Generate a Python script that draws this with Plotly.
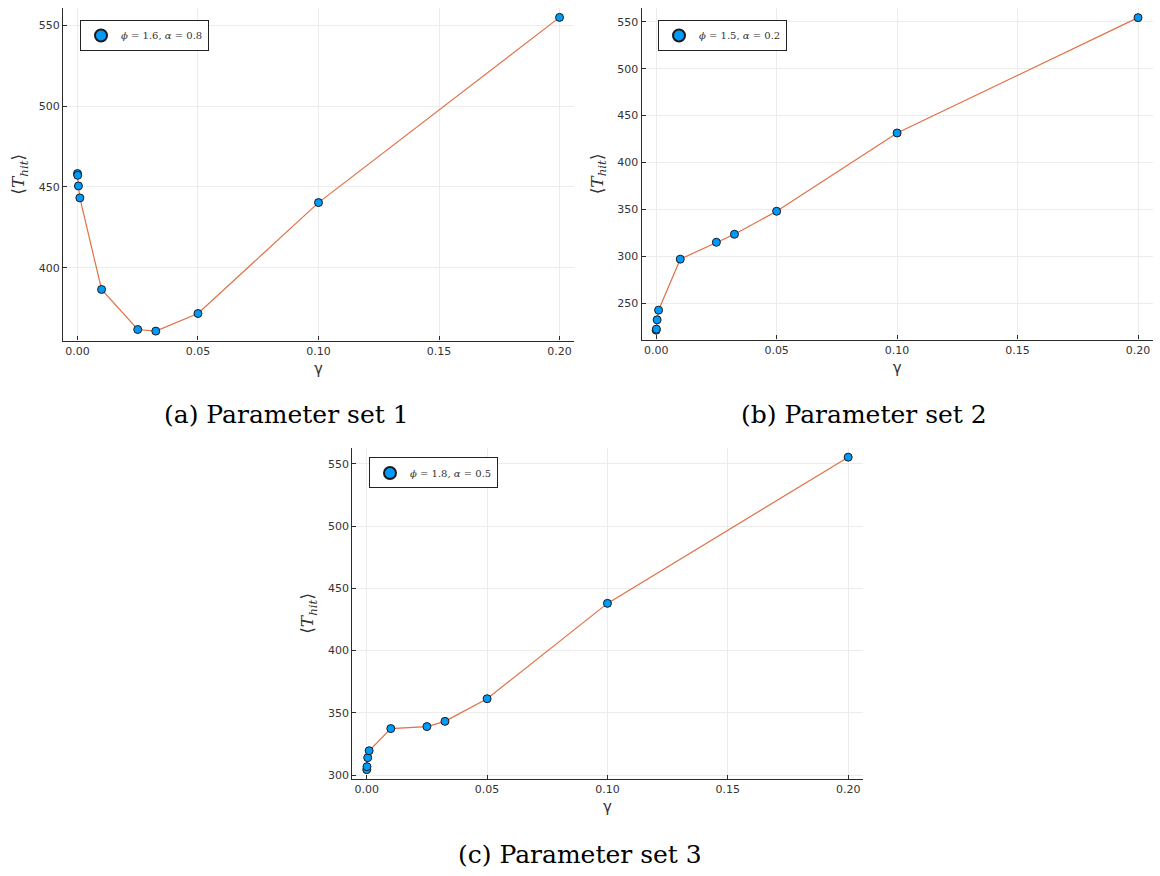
import plotly.graph_objects as go

# ---- data ----
gamma = [0.0, 0.0001, 0.0004, 0.001, 0.01, 0.025, 0.0325, 0.05, 0.1, 0.2]
t_hit_set1 = [458.3, 457.2, 450.6, 443.2, 386.5, 361.7, 360.7, 371.6, 440.3, 555.0]
t_hit_set2 = [221.6, 222.7, 232.6, 242.9, 297.2, 315.2, 323.7, 348.2, 431.5, 554.3]
t_hit_set3 = [304.3, 306.7, 313.9, 319.5, 337.3, 338.9, 343.1, 361.3, 437.9, 555.4]
labels = ["<i>ϕ</i> = 1.6, <i>α</i> = 0.8",
          "<i>ϕ</i> = 1.5, <i>α</i> = 0.2",
          "<i>ϕ</i> = 1.8, <i>α</i> = 0.5"]
captions = ["(a) Parameter set 1", "(b) Parameter set 2", "(c) Parameter set 3"]
x_ticks = [0.0, 0.05, 0.10, 0.15, 0.20]
x_ticktext = ["0.00", "0.05", "0.10", "0.15", "0.20"]
y_ticks = [250, 300, 350, 400, 450, 500, 550]

W, H = 1160, 876
MARKER = "#009AFA"
LINE = "#E36F47"
AX = "#2b2b2b"
GRID = "#ececec"

# plot-area boxes in pixels: (left, right, top, bottom)
boxes = [(63, 574, 8, 341.7), (641.7, 1152.5, 8.3, 340.7), (352.3, 862.6, 449.3, 781.7)]
legend_pos = [(80, 20), (658, 20), (369, 459)]
caption_pos = [(286, 416), (864, 416), (580, 857)]
series = [t_hit_set1, t_hit_set2, t_hit_set3]


def pad(lo, hi, f=0.03):
    s = hi - lo
    return [lo - f * s, hi + f * s]


fig = go.Figure()
layout = dict(width=W, height=H, margin=dict(l=0, r=0, t=0, b=0),
              paper_bgcolor="white", plot_bgcolor="white", showlegend=True)
annotations = []

for i, (ys, box) in enumerate(zip(series, boxes)):
    n = "" if i == 0 else str(i + 1)
    xa, ya = "x" + n, "y" + n
    lg = "legend" + n
    fig.add_trace(go.Scatter(x=gamma, y=ys, mode="lines", xaxis=xa, yaxis=ya,
                             line=dict(color=LINE, width=1.2), showlegend=False,
                             hoverinfo="skip"))
    fig.add_trace(go.Scatter(x=gamma, y=ys, mode="markers", xaxis=xa, yaxis=ya,
                             name=labels[i], legend=lg,
                             marker=dict(color=MARKER, size=8,
                                         line=dict(color="#1a1a1a", width=1))))
    l, r, t, b = box
    common = dict(showline=True, linecolor=AX, linewidth=1.3, mirror=False,
                  ticks="inside", ticklen=4, tickcolor=AX, tickwidth=1,
                  showgrid=True, gridcolor=GRID, gridwidth=1, zeroline=False,
                  tickfont=dict(family="DejaVu Sans", size=11, color="#333333"))
    layout["xaxis" + n] = dict(common, domain=[l / W, r / W], anchor=ya,
                               range=pad(min(gamma), max(gamma)),
                               tickvals=x_ticks, ticktext=x_ticktext,
                               title=dict(text="γ", standoff=6,
                                          font=dict(family="DejaVu Sans", size=15, color="#333333")))
    layout["yaxis" + n] = dict(common, domain=[1 - b / H, 1 - t / H], anchor=xa,
                               range=pad(min(ys), max(ys)), tickvals=y_ticks,
                               title=dict(text="⟨<i>T</i><sub><i>hit</i></sub>⟩", standoff=9,
                                          font=dict(family="DejaVu Serif", size=17, color="#333333")))
    lx, ly = legend_pos[i]
    layout[lg] = dict(x=lx / W, y=1 - ly / H, xanchor="left", yanchor="top",
                      bgcolor="white", bordercolor="#222222", borderwidth=1,
                      font=dict(family="DejaVu Serif", size=10, color="#333333"),
                      itemsizing="constant")
    cx, cy = caption_pos[i]
    annotations.append(dict(text=captions[i], x=cx / W, y=1 - cy / H, xref="paper", yref="paper",
                            showarrow=False, xanchor="center", yanchor="middle",
                            font=dict(family="DejaVu Serif", size=25, color="black")))

layout["annotations"] = annotations
fig.update_layout(**layout)
fig.write_html("out.html")
